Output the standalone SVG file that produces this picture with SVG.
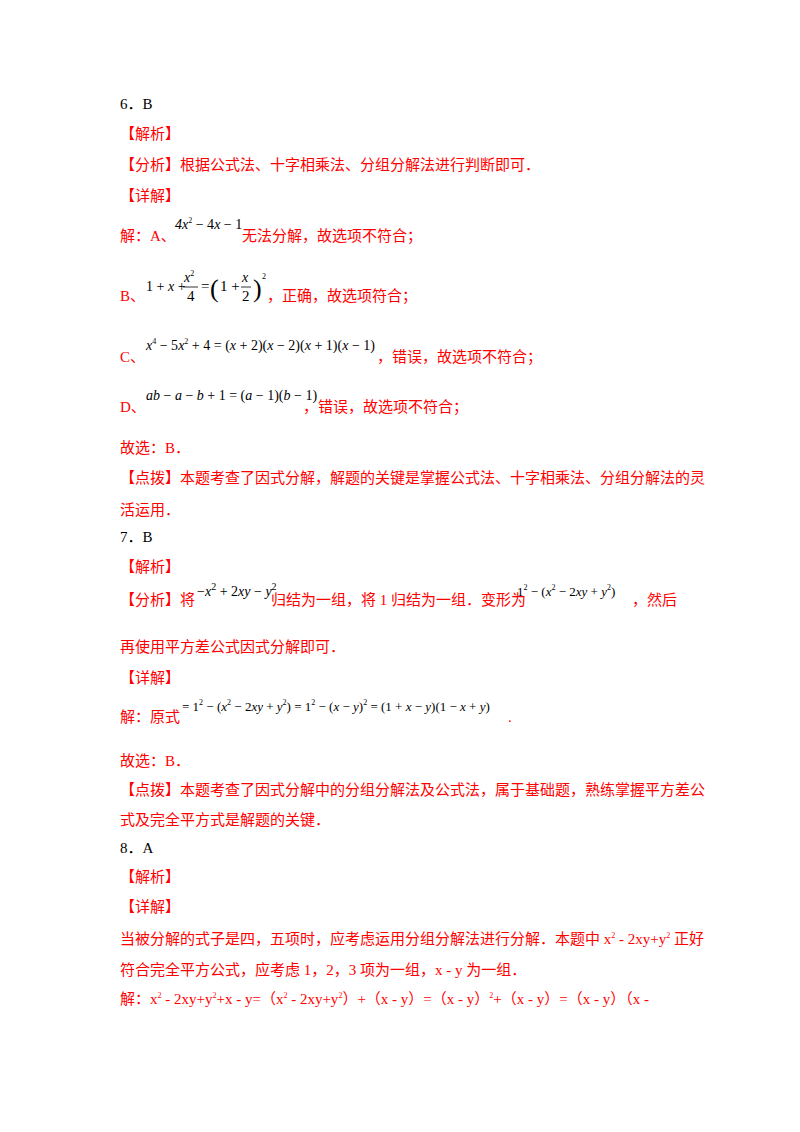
<svg xmlns="http://www.w3.org/2000/svg" width="800" height="1132" viewBox="0 0 800 1132">
<style>
text{font-family:"Liberation Serif","Noto Sans CJK SC",serif;font-size:15px;fill:#ff0000}
.k{fill:#000}
.m{fill:#000;font-style:italic;font-size:14px}
.s{font-size:8px}
</style>
<rect width="800" height="1132" fill="#fff"/>
<text x="120" y="109" class="k">6．B</text>
<text x="120" y="139">【解析】</text>
<text x="120" y="170">【分析】根据公式法、十字相乘法、分组分解法进行判断即可．</text>
<text x="120" y="201">【详解】</text>
<text x="120" y="241">解：A、</text>
<text x="175" y="229" class="m">4x<tspan class="s" dy="-6" font-style="normal">2</tspan><tspan dy="6" font-style="normal"> − 4</tspan>x<tspan font-style="normal"> − 1</tspan></text>
<text x="242" y="241">无法分解，故选项不符合；</text>
<text x="120" y="301">B、</text>
<text x="146" y="291" class="m"><tspan font-style="normal">1 + </tspan>x<tspan font-style="normal"> + </tspan></text>
<text x="184" y="282" class="m">x<tspan class="s" dy="-6" font-style="normal">2</tspan></text>
<line x1="183" y1="287" x2="198" y2="287" stroke="#000" stroke-width="0.8"/>
<text x="187" y="301" class="k" font-size="14">4</text>
<text x="201" y="291" class="k" font-size="14">=</text>
<text x="210" y="297" class="k" style="font-size:26px">(</text>
<text x="220" y="291" class="k" font-size="14">1 +</text>
<text x="242" y="282" class="m">x</text>
<line x1="241" y1="287" x2="251" y2="287" stroke="#000" stroke-width="0.8"/>
<text x="242" y="301" class="k" font-size="14">2</text>
<text x="253" y="297" class="k" style="font-size:26px">)</text>
<text x="262" y="279" class="k s">2</text>
<text x="267" y="301">，正确，故选项符合；</text>
<text x="120" y="362">C、</text>
<text x="146" y="350" class="m">x<tspan class="s" dy="-6" font-style="normal">4</tspan><tspan dy="6" font-style="normal"> − 5</tspan>x<tspan class="s" dy="-6" font-style="normal">2</tspan><tspan dy="6" font-style="normal"> + 4 = (</tspan>x<tspan font-style="normal"> + 2)(</tspan>x<tspan font-style="normal"> − 2)(</tspan>x<tspan font-style="normal"> + 1)(</tspan>x<tspan font-style="normal"> − 1)</tspan></text>
<text x="377" y="362">，错误，故选项不符合；</text>
<text x="120" y="412">D、</text>
<text x="146" y="400" class="m">ab<tspan font-style="normal"> − </tspan>a<tspan font-style="normal"> − </tspan>b<tspan font-style="normal"> + 1 = (</tspan>a<tspan font-style="normal"> − 1)(</tspan>b<tspan font-style="normal"> − 1)</tspan></text>
<text x="303" y="412">，错误，故选项不符合；</text>
<text x="120" y="453">故选：B．</text>
<text x="120" y="483">【点拨】本题考查了因式分解，解题的关键是掌握公式法、十字相乘法、分组分解法的灵</text>
<text x="120" y="515">活运用．</text>
<text x="120" y="542" class="k">7．B</text>
<text x="120" y="572">【解析】</text>
<text x="120" y="605">【分析】将</text>
<text x="197" y="596" class="m" font-size="13"><tspan font-style="normal">−</tspan>x<tspan dy="-6" font-style="normal" font-size="10">2</tspan><tspan dy="6" font-style="normal"> + 2</tspan>xy<tspan font-style="normal"> − </tspan>y<tspan dy="-6" font-style="normal" font-size="10">2</tspan></text>
<text x="271" y="605">归结为一组，将 1 归结为一组．变形为</text>
<text x="517" y="596" class="m" style="font-size:13px"><tspan font-style="normal">1</tspan><tspan class="s" dy="-6" font-style="normal">2</tspan><tspan dy="6" font-style="normal"> − (</tspan>x<tspan class="s" dy="-6" font-style="normal">2</tspan><tspan dy="6" font-style="normal"> − 2</tspan>xy<tspan font-style="normal"> + </tspan>y<tspan class="s" dy="-6" font-style="normal">2</tspan><tspan dy="6" font-style="normal">)</tspan></text>
<text x="632" y="605">，然后</text>
<text x="120" y="652">再使用平方差公式因式分解即可．</text>
<text x="120" y="683">【详解】</text>
<text x="120" y="722">解：原式</text>
<text x="182" y="711" class="m" style="font-size:13px"><tspan font-style="normal">= 1</tspan><tspan class="s" dy="-6" font-style="normal">2</tspan><tspan dy="6" font-style="normal"> − (</tspan>x<tspan class="s" dy="-6" font-style="normal">2</tspan><tspan dy="6" font-style="normal"> − 2</tspan>xy<tspan font-style="normal"> + </tspan>y<tspan class="s" dy="-6" font-style="normal">2</tspan><tspan dy="6" font-style="normal">) = 1</tspan><tspan class="s" dy="-6" font-style="normal">2</tspan><tspan dy="6" font-style="normal"> − (</tspan>x<tspan font-style="normal"> − </tspan>y<tspan font-style="normal">)</tspan><tspan class="s" dy="-6" font-style="normal">2</tspan><tspan dy="6" font-style="normal"> = (1 + </tspan>x<tspan font-style="normal"> − </tspan>y<tspan font-style="normal">)(1 − </tspan>x<tspan font-style="normal"> + </tspan>y<tspan font-style="normal">)</tspan></text>
<text x="508" y="722">.</text>
<text x="120" y="766">故选：B．</text>
<text x="120" y="795">【点拨】本题考查了因式分解中的分组分解法及公式法，属于基础题，熟练掌握平方差公</text>
<text x="120" y="825">式及完全平方式是解题的关键．</text>
<text x="120" y="853" class="k">8．A</text>
<text x="120" y="882">【解析】</text>
<text x="120" y="912">【详解】</text>
<text x="120" y="944">当被分解的式子是四，五项时，应考虑运用分组分解法进行分解．本题中 x<tspan class="s" dy="-6">2</tspan><tspan dy="6"> ‐ 2xy+y</tspan><tspan class="s" dy="-6">2</tspan><tspan dy="6"> 正好</tspan></text>
<text x="120" y="975">符合完全平方公式，应考虑 1，2，3 项为一组，x ‐ y 为一组．</text>
<text x="120" y="1004">解：x<tspan class="s" dy="-6">2</tspan><tspan dy="6"> ‐ 2xy+y</tspan><tspan class="s" dy="-6">2</tspan><tspan dy="6">+x ‐ y=（x</tspan><tspan class="s" dy="-6">2</tspan><tspan dy="6"> ‐ 2xy+y</tspan><tspan class="s" dy="-6">2</tspan><tspan dy="6">）+（x ‐ y）=（x ‐ y）</tspan><tspan class="s" dy="-6">2</tspan><tspan dy="6">+（x ‐ y）=（x ‐ y）（x ‐</tspan></text>
</svg>
